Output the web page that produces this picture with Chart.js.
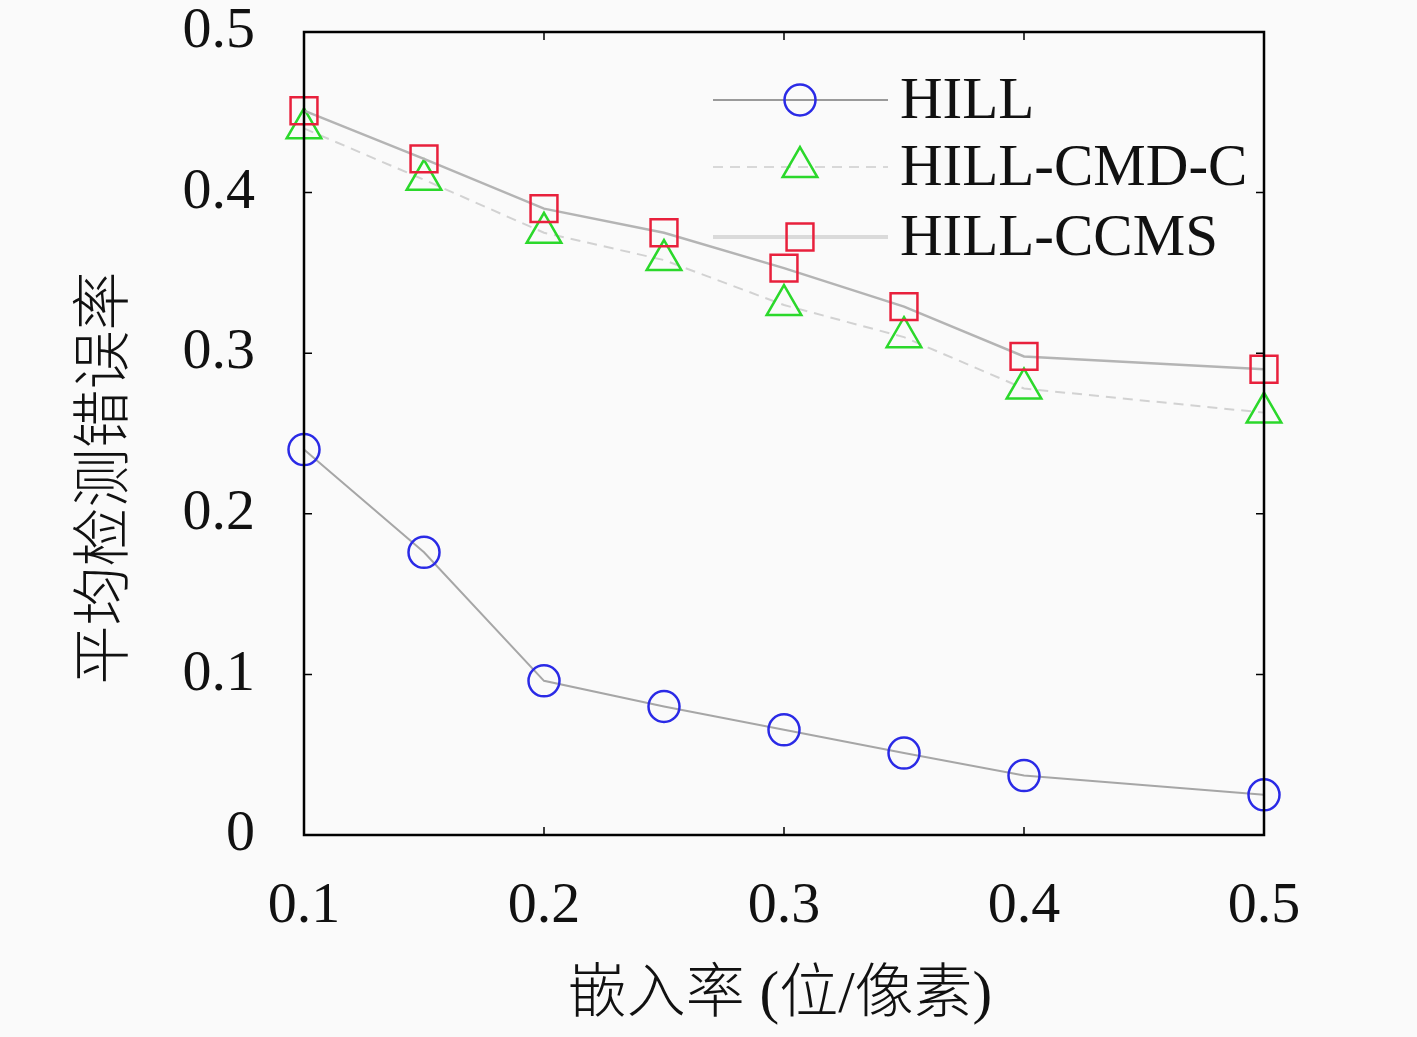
<!DOCTYPE html>
<html>
<head>
<meta charset="utf-8">
<script src="https://cdn.jsdelivr.net/npm/chart.js@4.4.1/dist/chart.umd.min.js"></script>
<style>
  html, body { margin: 0; padding: 0; background: #fafafa; }
  #wrap { width: 1417px; height: 1037px; }
</style>
</head>
<body>
<div id="wrap"><canvas id="chart" width="1417" height="1037"></canvas></div>
<script>
// 数据
const embedRates = [0.1, 0.15, 0.2, 0.25, 0.3, 0.35, 0.4, 0.5];
const hill       = [0.240, 0.176, 0.096, 0.080, 0.0655, 0.051, 0.037, 0.025];
const hillCmdC   = [0.440, 0.408, 0.375, 0.358, 0.330, 0.310, 0.278, 0.263];
const hillCcms   = [0.451, 0.421, 0.390, 0.375, 0.353, 0.329, 0.298, 0.290];

const seriesNames = ['HILL', 'HILL-CMD-C', 'HILL-CCMS'];
const xTicks = [0.1, 0.2, 0.3, 0.4, 0.5];
const xTickLabels = ['0.1', '0.2', '0.3', '0.4', '0.5'];
const yTicks = [0, 0.1, 0.2, 0.3, 0.4, 0.5];
const yTickLabels = ['0', '0.1', '0.2', '0.3', '0.4', '0.5'];
const xTitle = '嵌入率 (位/像素)';
const yTitle = '平均检测错误率';

const FONT = "'Liberation Serif', 'Noto Sans CJK SC', serif";

function toPoints(ys) {
  return embedRates.map((x, i) => ({ x, y: ys[i] }));
}

// ─── Frame, inward ticks, axis titles ──────────────────────
const framePlugin = {
  id: 'frame',
  afterDatasetsDraw(chart) {
    const { ctx, chartArea: a, scales } = chart;
    const len = 8;
    ctx.save();
    ctx.strokeStyle = '#000';
    ctx.lineWidth = 1.5;
    ctx.beginPath();
    xTicks.forEach(v => {
      const px = scales.x.getPixelForValue(v);
      ctx.moveTo(px, a.bottom); ctx.lineTo(px, a.bottom - len);
      ctx.moveTo(px, a.top); ctx.lineTo(px, a.top + len);
    });
    yTicks.forEach(v => {
      const py = scales.y.getPixelForValue(v);
      ctx.moveTo(a.left, py); ctx.lineTo(a.left + len, py);
      ctx.moveTo(a.right, py); ctx.lineTo(a.right - len, py);
    });
    ctx.stroke();
    ctx.lineWidth = 2.5;
    ctx.strokeRect(a.left, a.top, a.right - a.left, a.bottom - a.top);

    ctx.fillStyle = '#111';
    ctx.font = `300 59px ${FONT}`;
    ctx.textAlign = 'center';
    ctx.textBaseline = 'middle';
    ctx.fillText(xTitle, (a.left + a.right) / 2 - 4, 996);
    ctx.translate(107, 478);
    ctx.rotate(-Math.PI / 2);
    ctx.fillText(yTitle, 0, 0);
    ctx.restore();
  }
};

// ─── Legend: line sample with marker in the middle ─────────
const legendPlugin = {
  id: 'lineLegend',
  afterDraw(chart) {
    const { ctx } = chart;
    const rows = [100, 167, 237];
    const x0 = 713, x1 = 888, mx = 800, tx = 900;
    ctx.save();
    chart.data.datasets.forEach((ds, i) => {
      const y = rows[i];
      ctx.strokeStyle = ds.legendLineColor;
      ctx.lineWidth = ds.legendLineWidth;
      ctx.setLineDash(ds.borderDash || []);
      ctx.beginPath();
      ctx.moveTo(x0, y); ctx.lineTo(x1, y);
      ctx.stroke();
      ctx.setLineDash([]);
      ctx.fillStyle = 'rgba(255,255,255,0)';
      ctx.strokeStyle = ds.pointBorderColor;
      ctx.lineWidth = ds.pointBorderWidth;
      Chart.helpers.drawPoint(ctx, {
        pointStyle: ds.pointStyle,
        radius: ds.pointRadius,
        rotation: 0,
        borderWidth: ds.pointBorderWidth
      }, mx, y);
      ctx.fillStyle = '#111';
      ctx.font = `59px ${FONT}`;
      ctx.textAlign = 'left';
      ctx.textBaseline = 'middle';
      ctx.fillText(ds.label, tx, y + 2);
    });
    ctx.restore();
  }
};

function noPad(s) {
  s.paddingTop = 0; s.paddingBottom = 0;
  s.paddingLeft = 0; s.paddingRight = 0;
}

new Chart(document.getElementById('chart'), {
  type: 'line',
  data: {
    datasets: [
      {
        label: seriesNames[0],
        data: toPoints(hill),
        borderColor: '#a6a6a6',
        borderWidth: 2,
        legendLineColor: '#9a9a9a',
        legendLineWidth: 2,
        pointStyle: 'circle',
        pointRadius: 15.5,
        pointBorderWidth: 2.5,
        pointBorderColor: '#2a2ae6',
        pointBackgroundColor: 'rgba(255,255,255,0)',
        clip: false,
        order: 2
      },
      {
        label: seriesNames[1],
        data: toPoints(hillCmdC),
        borderColor: '#d2d2d2',
        borderWidth: 2,
        borderDash: [10, 7],
        legendLineColor: '#d8d8d8',
        legendLineWidth: 2,
        pointStyle: 'triangle',
        pointRadius: 20,
        pointBorderWidth: 2.5,
        pointBorderColor: '#2bd82b',
        pointBackgroundColor: 'rgba(255,255,255,0)',
        clip: false,
        order: 1
      },
      {
        label: seriesNames[2],
        data: toPoints(hillCcms),
        borderColor: '#b4b4b4',
        borderWidth: 2.5,
        legendLineColor: '#dadada',
        legendLineWidth: 4,
        pointStyle: 'rect',
        pointRadius: 19,
        pointBorderWidth: 2.5,
        pointBorderColor: '#e8203c',
        pointBackgroundColor: 'rgba(255,255,255,0)',
        clip: false,
        order: 0
      }
    ]
  },
  options: {
    responsive: false,
    animation: false,
    devicePixelRatio: 1,
    layout: { padding: { left: 0, top: 32, right: 153, bottom: 0 } },
    plugins: {
      legend: { display: false },
      tooltip: { enabled: false }
    },
    elements: { line: { tension: 0 } },
    scales: {
      x: {
        type: 'linear',
        min: 0.1,
        max: 0.5,
        afterBuildTicks: s => { s.ticks = xTicks.map(v => ({ value: v })); },
        afterFit: s => { s.height = 202; noPad(s); },
        grid: { display: false },
        border: { display: false },
        ticks: {
          padding: 35,
          color: '#111',
          font: { family: FONT, size: 58, lineHeight: 1 },
          maxRotation: 0,
          callback: (v, i) => xTickLabels[i]
        }
      },
      y: {
        type: 'linear',
        min: 0,
        max: 0.5,
        afterBuildTicks: s => { s.ticks = yTicks.map(v => ({ value: v })); },
        afterFit: s => { s.width = 304; noPad(s); },
        grid: { display: false, drawTicks: false },
        border: { display: false },
        ticks: {
          padding: 49,
          color: '#111',
          font: { family: FONT, size: 58, lineHeight: 1 },
          callback: (v, i) => yTickLabels[i]
        }
      }
    }
  },
  plugins: [framePlugin, legendPlugin]
});
</script>
</body>
</html>
